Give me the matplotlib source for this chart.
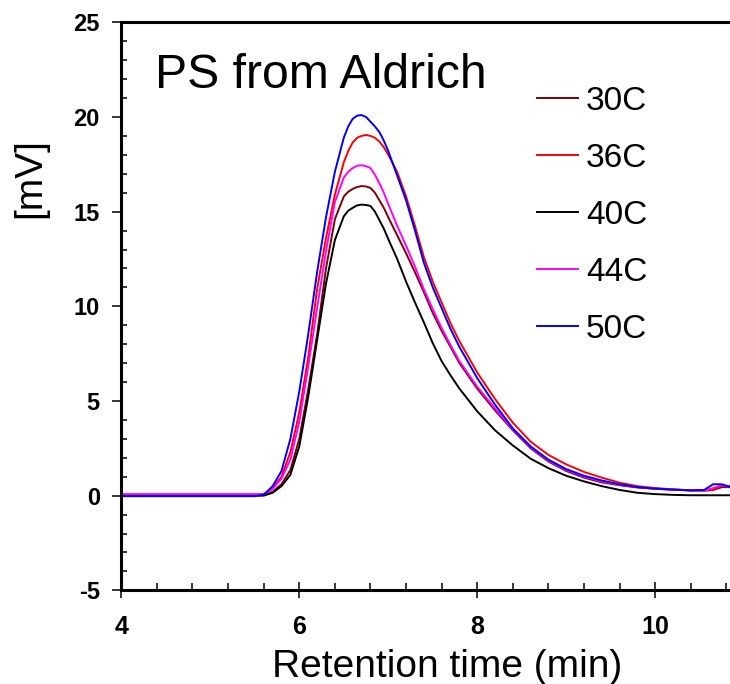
import matplotlib
matplotlib.use("Agg")
import matplotlib.pyplot as plt
from matplotlib.ticker import MultipleLocator

plt.rcParams['font.family'] = ['Liberation Sans', 'DejaVu Sans']
plt.rcParams['axes.unicode_minus'] = False

# Retention time grid (min)
time_min = [4.0, 5.0, 5.5, 5.6, 5.7, 5.8, 5.9, 6.0, 6.1, 6.2, 6.3, 6.4, 6.5, 6.55, 6.6,
            6.65, 6.7, 6.75, 6.8, 6.85, 6.9, 6.95, 7.0, 7.1, 7.2, 7.3, 7.4, 7.5, 7.6,
            7.7, 7.8, 8.0, 8.2, 8.4, 8.6, 8.8, 9.0, 9.2, 9.4, 9.6, 9.8, 10.0, 10.2,
            10.4, 10.55, 10.65, 10.75, 10.84]

# Detector signal (mV) per temperature
mv_30C = [0.03, 0.03, 0.03, 0.03, 0.2, 0.6, 1.35, 3.0, 5.6, 8.5, 12.0, 14.6, 15.8, 16.05, 16.2,
          16.3, 16.35, 16.33, 16.25, 16.0, 15.6, 15.2, 14.7, 13.75, 12.8, 11.8, 10.75, 9.65, 8.7,
          7.85, 7.0, 5.65, 4.5, 3.45, 2.5, 1.8, 1.3, 0.95, 0.7, 0.55, 0.43, 0.36, 0.31,
          0.27, 0.27, 0.3, 0.45, 0.45]
mv_36C = [0.05, 0.05, 0.05, 0.05, 0.4, 1.0, 2.3, 4.4, 7.3, 10.9, 13.6, 15.9, 17.6, 18.2, 18.65,
          18.9, 19.0, 19.05, 19.0, 18.9, 18.7, 18.4, 18.0, 17.1, 15.8, 14.25, 12.6, 11.3, 10.2,
          9.1, 8.15, 6.5, 5.1, 3.85, 2.85, 2.15, 1.65, 1.25, 0.95, 0.68, 0.5, 0.4, 0.33,
          0.28, 0.27, 0.3, 0.55, 0.5]
mv_40C = [0.0, 0.0, 0.0, 0.0, 0.15, 0.5, 1.1, 2.6, 5.2, 8.2, 11.2, 13.5, 14.75, 15.05, 15.2,
          15.33, 15.37, 15.35, 15.3, 15.0, 14.55, 14.1, 13.55, 12.5, 11.3, 10.2, 9.15, 8.05, 7.1,
          6.35, 5.65, 4.45, 3.45, 2.65, 1.95, 1.45, 1.05, 0.75, 0.5, 0.3, 0.15, 0.08, 0.04,
          0.02, 0.02, 0.02, 0.02, 0.02]
mv_44C = [0.08, 0.08, 0.08, 0.08, 0.35, 0.9, 1.9, 3.9, 6.8, 9.9, 12.9, 15.5, 16.8, 17.1, 17.3,
          17.42, 17.45, 17.4, 17.3, 16.95, 16.5, 16.0, 15.4, 14.25, 13.2, 12.1, 10.9, 9.85, 8.85,
          7.95, 7.1, 5.75, 4.6, 3.5, 2.55, 1.85, 1.35, 1.0, 0.75, 0.57, 0.45, 0.37, 0.32,
          0.28, 0.27, 0.4, 0.55, 0.45]
mv_50C = [-0.03, -0.03, -0.03, 0.05, 0.5, 1.3, 3.0, 5.5, 8.5, 11.8, 14.7, 17.1, 18.9, 19.5, 19.9,
          20.07, 20.1, 20.0, 19.75, 19.5, 19.2, 18.75, 18.2, 16.9, 15.6, 14.0, 12.3, 11.0, 9.9,
          8.8, 7.85, 6.2, 4.8, 3.55, 2.6, 1.9, 1.4, 1.05, 0.8, 0.6, 0.45, 0.37, 0.32,
          0.28, 0.3, 0.6, 0.6, 0.45]

labels = ["30C", "36C", "40C", "44C", "50C"]
series = [mv_30C, mv_36C, mv_40C, mv_44C, mv_50C]
colors = ["#800000", "#ff0000", "#000000", "#ff00ff", "#0000ff"]

W, H = 730, 684
fig = plt.figure(figsize=(W / 100, H / 100), dpi=100)
ax_l, ax_r, ax_t, ax_b = 121.3, 730.0, 22.3, 590.3
ax = fig.add_axes([ax_l / W, 1 - ax_b / H, (ax_r - ax_l) / W, (ax_b - ax_t) / H])

for lab, ys, c in zip(labels, series, colors):
    ax.plot(time_min, ys, color=c, lw=1.4, label=lab)

ax.set_xlim(4, 10.84)
ax.set_ylim(-5, 25)
ax.xaxis.set_major_locator(MultipleLocator(2))
ax.xaxis.set_minor_locator(MultipleLocator(0.4))
ax.yaxis.set_major_locator(MultipleLocator(5))
ax.yaxis.set_minor_locator(MultipleLocator(1))

for s in ['left', 'bottom', 'top']:
    ax.spines[s].set_linewidth(2.2)
ax.spines['right'].set_visible(False)

ax.tick_params(axis='x', which='major', direction='inout', length=11.5, width=1.1,
               pad=12, labelsize=18, top=False)
ax.tick_params(axis='x', which='minor', direction='in', length=4.8, width=1.1, top=False)
ax.tick_params(axis='y', which='major', direction='out', length=6.5, width=1.1,
               pad=9, labelsize=17, right=False)
ax.tick_params(axis='y', which='minor', direction='in', length=4.3, width=1.1, right=False)
for lbl in ax.get_xticklabels() + ax.get_yticklabels():
    lbl.set_fontweight('bold')

ax.set_xlabel("Retention time (min)", fontsize=28)
ax.xaxis.set_label_coords((447 - ax_l) / (ax_r - ax_l), -(649 - ax_b) / (ax_b - ax_t))
ax.set_ylabel("[mV]", fontsize=28, va='center')
ax.yaxis.set_label_coords((30.5 - ax_l) / (ax_r - ax_l), (ax_b - 178.5) / (ax_b - ax_t))

ax.text(155 / W, 1 - 88 / H, "PS from Aldrich", transform=fig.transFigure,
        fontsize=34.7, ha='left', va='baseline')

ax.legend(loc='upper left', bbox_to_anchor=(537 / W, 1 - 86 / H),
          bbox_transform=fig.transFigure, frameon=False, fontsize=24,
          borderpad=0, borderaxespad=0, handlelength=1.23, handletextpad=0.24,
          labelspacing=0.78)

fig.savefig("out.png", dpi=100)
